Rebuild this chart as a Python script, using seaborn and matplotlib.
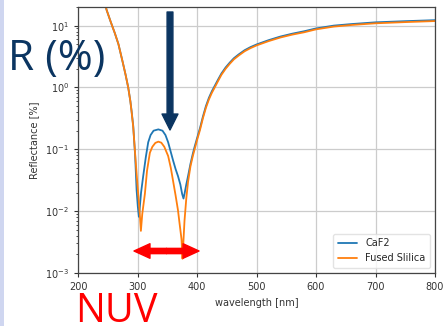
import numpy as np
import pandas as pd
import matplotlib
matplotlib.use("Agg")
import matplotlib.pyplot as plt
import seaborn as sns
from matplotlib.patches import FancyArrowPatch, Rectangle
from matplotlib.ticker import LogLocator, NullFormatter

# ---- data ----
wl_caf2 = [244, 248, 255, 262, 268, 275, 280, 284.4, 288, 290, 292.8, 296, 298.5, 300.5,
           302.3, 304, 306, 309.6, 314, 318, 322, 327, 335, 342, 347, 351.5, 356, 360,
           364, 368, 372, 375, 377.3, 379, 382, 385, 389, 393, 396, 400, 405, 410, 415,
           420, 425, 430, 435, 441, 448, 455, 462, 470, 480, 490, 500, 520, 540, 560,
           580, 600, 630, 660, 700, 750, 800]
r_caf2 = [26, 18, 11.5, 7.5, 5.0, 2.6, 1.6, 1.0, 0.6, 0.42, 0.24, 0.08, 0.022, 0.012,
          0.0081, 0.012, 0.02, 0.037, 0.075, 0.13, 0.17, 0.2, 0.21, 0.2, 0.17, 0.13, 0.09, 0.065,
          0.048, 0.037, 0.027, 0.019, 0.016, 0.019, 0.027, 0.037, 0.058, 0.085, 0.11, 0.15, 0.22,
          0.34, 0.5, 0.68, 0.87, 1.07, 1.32, 1.68, 2.1, 2.52, 2.97, 3.42, 4.0, 4.5, 4.95, 5.8,
          6.65, 7.4, 8.1, 9.0, 10.0, 10.6, 11.3, 11.8, 12.25]

wl_fs = [244, 248, 255, 262, 268, 275, 280, 284.4, 288, 290, 292.8, 296, 298.5, 301,
         303.5, 305.7, 308, 312.4, 316, 320.8, 325, 330, 335, 340, 345, 351.5, 356, 360,
         364, 368, 371, 374, 375.6, 377, 379, 382, 385, 389, 393, 396, 400, 405, 410, 415,
         420, 425, 430, 435, 441, 448, 455, 462, 470, 480, 490, 500, 520, 540, 560, 580,
         600, 630, 660, 700, 750, 800]
r_fs = [26, 18, 11.5, 7.5, 5.0, 2.6, 1.6, 1.0, 0.6, 0.41, 0.23, 0.085, 0.04, 0.02,
        0.01, 0.0048, 0.009, 0.019, 0.045, 0.088, 0.11, 0.127, 0.133, 0.128, 0.11, 0.078, 0.05, 0.03,
        0.018, 0.0104, 0.006, 0.0035, 0.0017, 0.003, 0.007, 0.016, 0.03, 0.053, 0.078, 0.1, 0.14,
        0.205, 0.32, 0.47, 0.64, 0.82, 1.01, 1.25, 1.6, 2.0, 2.41, 2.85, 3.28, 3.85, 4.33, 4.78,
        5.6, 6.42, 7.15, 7.8, 8.7, 9.65, 10.25, 10.9, 11.4, 11.85]

labels = ["CaF2", "Fused Slilica"]
x_ticks = [200, 300, 400, 500, 600, 700, 800]

df = pd.concat([
    pd.DataFrame({"wavelength": wl_caf2, "R": r_caf2, "material": labels[0]}),
    pd.DataFrame({"wavelength": wl_fs, "R": r_fs, "material": labels[1]}),
])

sns.set_style("ticks")
plt.rcParams["font.family"] = ["DejaVu Sans"]

W, H = 444, 326
fig = plt.figure(figsize=(W / 100, H / 100), dpi=100)
fig.patch.set_facecolor("white")
ax = fig.add_axes([78 / W, 1 - 273 / H, (435 - 78) / W, (273 - 7) / H])

sns.lineplot(data=df, x="wavelength", y="R", hue="material", sort=False,
             palette=["#1f77b4", "#ff7f0e"], linewidth=1.3, ax=ax, estimator=None)

ax.set_yscale("log")
ax.set_xlim(200, 800)
ax.set_ylim(1e-3, 20)
ax.set_xticks(x_ticks)
ax.yaxis.set_minor_locator(LogLocator(base=10, subs=np.arange(2, 10) * 0.1 * 10, numticks=20))
ax.yaxis.set_minor_formatter(NullFormatter())
ax.grid(True, which="major", color="#cccccc", linewidth=0.9)
ax.set_xlabel("wavelength [nm]", fontsize=7, color="#333333")
ax.set_ylabel("Reflectance [%]", fontsize=7, color="#333333")
ax.tick_params(labelsize=7, colors="#333333", width=0.8, length=3)
ax.tick_params(axis="y", which="minor", length=1.8, width=0.6, left=True, color="#333333")
for s in ax.spines.values():
    s.set_color("#444444")
    s.set_linewidth(0.9)

leg = ax.legend(loc="lower right", fontsize=7, frameon=True, handlelength=2.0,
                borderpad=0.5, labelspacing=0.5)
leg.get_frame().set_edgecolor("#dddddd")

# left slide-background strip
fig.add_artist(Rectangle((0, 0), 4 / W, 1, transform=fig.transFigure,
                         facecolor="#cfd6f0", edgecolor="none", zorder=0))

def fx(px):
    return px / W

def fy(py):
    return 1 - py / H

# annotations
fig.text(fx(8), fy(70), "R (%)", fontsize=30.5, color="#0b3561",
         family=["Open Sans", "DejaVu Sans"], va="baseline", ha="left")
fig.text(fx(75), fy(322), "NUV", fontsize=28.5, color="#ff0000",
         family=["Open Sans", "DejaVu Sans"], va="baseline", ha="left")

navy = FancyArrowPatch((fx(170), fy(12)), (fx(170), fy(130)), transform=fig.transFigure,
                       arrowstyle="simple,tail_width=0.42,head_width=1.15,head_length=1.15",
                       mutation_scale=10, color="#0b3561", shrinkA=0, shrinkB=0)
fig.add_artist(navy)

mid = 166.5
for end in (134, 199):
    a = FancyArrowPatch((fx(mid), fy(251)), (fx(end), fy(251)), transform=fig.transFigure,
                        arrowstyle="simple,tail_width=0.38,head_width=1.05,head_length=1.15",
                        mutation_scale=10, color="#ff0000", shrinkA=0, shrinkB=0)
    fig.add_artist(a)

fig.savefig("out.png", dpi=100)
